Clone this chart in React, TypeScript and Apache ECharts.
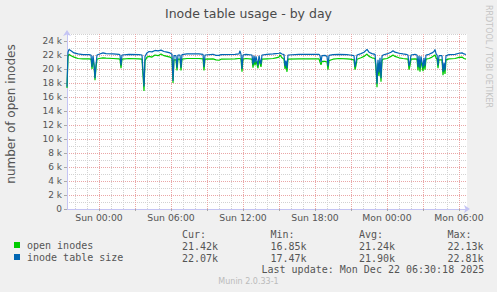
import React, { useEffect, useRef } from 'react';
import * as echarts from 'echarts';

// minutes relative to Sun 00:00
const TIMES = [
  -160, -155, -150, -140, -125, -105, -80, -50, -40, -35, -30, -25, -20, -15, -10, 0, 20, 35, 70, 100,
  105, 110, 115, 150, 200, 215, 225, 230, 240, 250, 265, 280, 295, 310, 325, 340, 355, 365, 370, 375,
  385, 390, 395, 405, 410, 415, 440, 500, 520, 525, 530, 570, 585, 600, 610, 680, 700, 705, 710, 715,
  720, 735, 765, 770, 775, 780, 785, 795, 800, 810, 815, 840, 870, 885, 900, 905, 915, 925, 930, 935,
  940, 945, 1000, 1100, 1105, 1110, 1115, 1130, 1140, 1145, 1150, 1170, 1200, 1240, 1255, 1275, 1280, 1285, 1290, 1310,
  1325, 1340, 1350, 1365, 1380, 1385, 1390, 1395, 1400, 1405, 1410, 1415, 1420, 1440, 1460, 1470, 1480, 1500, 1520, 1535,
  1545, 1550, 1555, 1560, 1580, 1590, 1595, 1600, 1605, 1610, 1620, 1625, 1630, 1635, 1650, 1665, 1675, 1680, 1685, 1690,
  1695, 1700, 1715, 1720, 1725, 1730, 1735, 1750, 1780, 1800, 1815, 1825, 1835,
];

const OPEN_INODES = [
  17300, 21800, 22100, 21900, 21700, 21500, 21450, 21450, 21400, 20000, 21300, 20500, 18400, 20200, 21400, 21500, 21600, 21550, 21500, 21450,
  21400, 20100, 21400, 21500, 21450, 21400, 16850, 21200, 21700, 21800, 21700, 22000, 21900, 22130, 21900, 21800, 21700, 21500, 18000, 21300,
  21300, 19800, 21400, 21400, 19800, 21400, 21500, 21500, 21450, 19800, 21400, 21450, 21300, 21250, 21400, 21450, 21500, 21500, 21400, 19600,
  21400, 21500, 21400, 20200, 21300, 20500, 21200, 20100, 21300, 20300, 21400, 21450, 21500, 21600, 21700, 22000, 21600, 21400, 20000, 20700,
  19600, 21400, 21450, 21450, 21000, 20600, 21100, 21100, 21000, 19900, 21200, 21400, 21500, 21450, 21400, 21300, 19900, 20500, 21400, 21600,
  21800, 22130, 21800, 21600, 21500, 20000, 17400, 20800, 19000, 21000, 18200, 21200, 21400, 21500, 21800, 22000, 21800, 21600, 21500, 21450,
  21400, 19900, 20500, 21400, 21450, 21400, 19800, 21300, 19600, 21200, 19700, 21000, 19900, 21400, 21500, 21700, 21900, 22000, 21600, 21400,
  20100, 21300, 21300, 19100, 20400, 19300, 21300, 21450, 21500, 21650, 21700, 21500, 21420,
];

const TABLE_SIZE = [
  17470, 22400, 22800, 22600, 22300, 22150, 22050, 22050, 22000, 20300, 21900, 20800, 18700, 20600, 22000, 22100, 22300, 22200, 22150, 22100,
  22000, 20500, 22000, 22100, 22050, 22000, 17500, 21800, 22300, 22500, 22450, 22650, 22600, 22700, 22500, 22400, 22300, 22100, 18300, 21900,
  21900, 20200, 22000, 22000, 20200, 22050, 22150, 22150, 22100, 20300, 22000, 22100, 21950, 21950, 22050, 22100, 22150, 22600, 22100, 20000,
  22000, 22100, 22000, 20600, 21900, 20900, 21800, 20500, 21900, 20700, 22000, 22100, 22150, 22200, 22250, 22300, 22150, 22050, 20400, 21200,
  20100, 22000, 22100, 22100, 21900, 21000, 21900, 21950, 21800, 20400, 21950, 22050, 22100, 22050, 22000, 21900, 20300, 21000, 22000, 22200,
  22400, 22810, 22400, 22200, 22100, 20500, 17900, 21300, 19500, 21600, 18700, 21800, 22000, 22150, 22400, 22600, 22400, 22250, 22150, 22100,
  22000, 20400, 21000, 22000, 22100, 22000, 20300, 21900, 20100, 21800, 20200, 21600, 20400, 22000, 22100, 22300, 22500, 22800, 22200, 22000,
  20500, 21900, 21900, 19600, 20900, 19800, 21900, 22050, 22100, 22250, 22300, 22150, 22070,
];

const SERIES_NAMES = ['open inodes', 'inode table size'];
const SERIES_COLORS = ['#00cc00', '#0066b3'];

const Y_MAJOR = [0, 2000, 4000, 6000, 8000, 10000, 12000, 14000, 16000, 18000, 20000, 22000, 24000];
const Y_MINOR = [1000, 3000, 5000, 7000, 9000, 11000, 13000, 15000, 17000, 19000, 21000, 23000, 25000];
const X_MAJOR = [0, 180, 360, 540, 720, 900, 1080, 1260, 1440, 1620, 1800];
const X_MINOR = [
  -120, -60, 60, 120, 240, 300, 420, 480, 600, 660, 780, 840, 960, 1020, 1140, 1200, 1320, 1380, 1500, 1560,
  1680, 1740,
];
const X_LABEL_VALUES = [0, 360, 720, 1080, 1440, 1800];
const X_LABELS = ['Sun 00:00', 'Sun 06:00', 'Sun 12:00', 'Sun 18:00', 'Mon 00:00', 'Mon 06:00'];

const CUR = ['21.42k', '22.07k'];
const MIN = ['16.85k', '17.47k'];
const AVG = ['21.24k', '21.90k'];
const MAX = ['22.13k', '22.81k'];

const SANS = 'DejaVu Sans';
const MONO = 'DejaVu Sans Mono';
const TEXT = '#555';
const AXIS = '#c4c4f4';
const RED = '#eaa6a6';
const GREY = '#d2d2d2';

export default function App() {
  const ref = useRef<HTMLDivElement>(null);
  useEffect(() => {
    document.body.style.margin = '0';
    const chart = echarts.init(ref.current!, null, { renderer: 'svg' });
    const monoText = (text: string, x: number, y: number) => ({
      type: 'text',
      x,
      y,
      style: { text, fontFamily: MONO, fontSize: 10, fill: TEXT, align: 'left', verticalAlign: 'middle' },
    });
    const statCols: [string, string[], number][] = [
      ['Cur:', CUR, 182],
      ['Min:', MIN, 270.5],
      ['Avg:', AVG, 359],
      ['Max:', MAX, 447.5],
    ];
    const graphics: any[] = [];
    statCols.forEach(([head, vals, x]) => {
      graphics.push(monoText(head, x, 234));
      vals.forEach((v, i) => graphics.push(monoText(v, x, 246 + i * 12)));
    });
    graphics.push(monoText('Last update: Mon Dec 22 06:30:18 2025', 261.5, 269.5));
    graphics.push({
      type: 'text',
      x: 248.5,
      y: 281.5,
      style: { text: 'Munin 2.0.33-1', fontFamily: SANS, fontSize: 8, fill: '#bbb', align: 'center', verticalAlign: 'middle' },
    });
    graphics.push({
      type: 'text',
      x: 11,
      y: 114,
      rotation: Math.PI / 2,
      style: { text: 'number of open inodes', fontFamily: SANS, fontSize: 12, fill: TEXT, align: 'center', verticalAlign: 'middle' },
    });
    graphics.push({
      type: 'text',
      x: 488.5,
      y: 56.5,
      rotation: -Math.PI / 2,
      style: { text: 'RRDTOOL / TOBI OETIKER', fontFamily: SANS, fontSize: 8, fill: '#c4c4c4', align: 'center', verticalAlign: 'middle' },
    });

    chart.setOption({
      animation: false,
      backgroundColor: '#f0f0f0',
      title: {
        text: 'Inode table usage - by day',
        left: 'center',
        top: 7,
        padding: 0,
        textStyle: { fontFamily: SANS, fontSize: 12.5, fontWeight: 'normal', color: '#4a4a4a' },
      },
      legend: {
        orient: 'vertical',
        left: 14,
        top: 239,
        padding: 0,
        itemWidth: 6,
        itemHeight: 6,
        itemGap: 0,
        icon: 'rect',
        selectedMode: false,
        data: SERIES_NAMES,
        textStyle: { fontFamily: MONO, fontSize: 10, color: TEXT, lineHeight: 12, padding: [0, 0, 0, 2] },
      },
      grid: { left: 67, top: 34, width: 400, height: 175, show: true, backgroundColor: '#ffffff', borderWidth: 0 },
      xAxis: [
        {
          type: 'value',
          min: -160,
          max: 1840,
          position: 'top',
          axisLine: { show: false },
          axisLabel: { show: false },
          axisTick: { show: false, customValues: X_MINOR },
          splitLine: { show: true, lineStyle: { color: GREY, type: [1, 1], width: 1 } },
        },
        {
          type: 'value',
          min: -160,
          max: 1840,
          position: 'bottom',
          axisLine: {
            show: true,
            onZero: false,
            lineStyle: { color: AXIS, width: 1 },
            symbol: ['none', 'arrow'],
            symbolSize: [6, 6],
            symbolOffset: [0, 3],
          },
          axisTick: { show: true, length: 2, customValues: X_MAJOR, lineStyle: { color: '#aaa' } },
          axisLabel: {
            customValues: X_LABEL_VALUES,
            fontFamily: SANS,
            fontSize: 9.3,
            color: TEXT,
            margin: 4,
            formatter: (v: number) => {
              const i = X_LABEL_VALUES.indexOf(v);
              return i >= 0 ? X_LABELS[i] : '';
            },
          },
          splitLine: { show: true, lineStyle: { color: RED, type: [1, 1], width: 1 } },
        },
      ],
      yAxis: [
        {
          type: 'value',
          min: 0,
          max: 25000,
          position: 'right',
          axisLine: { show: false },
          axisLabel: { show: false },
          axisTick: { show: false, customValues: Y_MINOR },
          splitLine: { show: true, lineStyle: { color: GREY, type: [1, 1], width: 1 } },
        },
        {
          type: 'value',
          min: 0,
          max: 25000,
          position: 'left',
          axisLine: {
            show: true,
            onZero: false,
            lineStyle: { color: AXIS, width: 1 },
            symbol: ['none', 'arrow'],
            symbolSize: [6, 6],
            symbolOffset: [0, 4],
          },
          axisTick: { show: true, length: 3, customValues: Y_MAJOR, lineStyle: { color: '#aaa' } },
          axisLabel: {
            customValues: Y_MAJOR,
            fontFamily: SANS,
            fontSize: 9,
            color: TEXT,
            margin: 5,
            formatter: (v: number) => (v === 0 ? '0' : v / 1000 + ' k'),
          },
          splitLine: { show: true, lineStyle: { color: RED, type: [1, 1], width: 1 } },
        },
      ],
      series: [
        {
          name: SERIES_NAMES[0],
          type: 'line',
          xAxisIndex: 1,
          yAxisIndex: 1,
          symbol: 'none',
          showSymbol: false,
          color: SERIES_COLORS[0],
          lineStyle: { width: 1.2, color: SERIES_COLORS[0] },
          data: TIMES.map((t, i) => [t, OPEN_INODES[i]]),
          z: 3,
        },
        {
          name: SERIES_NAMES[1],
          type: 'line',
          xAxisIndex: 1,
          yAxisIndex: 1,
          symbol: 'none',
          showSymbol: false,
          color: SERIES_COLORS[1],
          lineStyle: { width: 1.2, color: SERIES_COLORS[1] },
          data: TIMES.map((t, i) => [t, TABLE_SIZE[i]]),
          z: 4,
        },
      ],
      graphic: graphics,
    });
    return () => chart.dispose();
  }, []);
  return <div ref={ref} style={{ width: 497, height: 292 }} />;
}
